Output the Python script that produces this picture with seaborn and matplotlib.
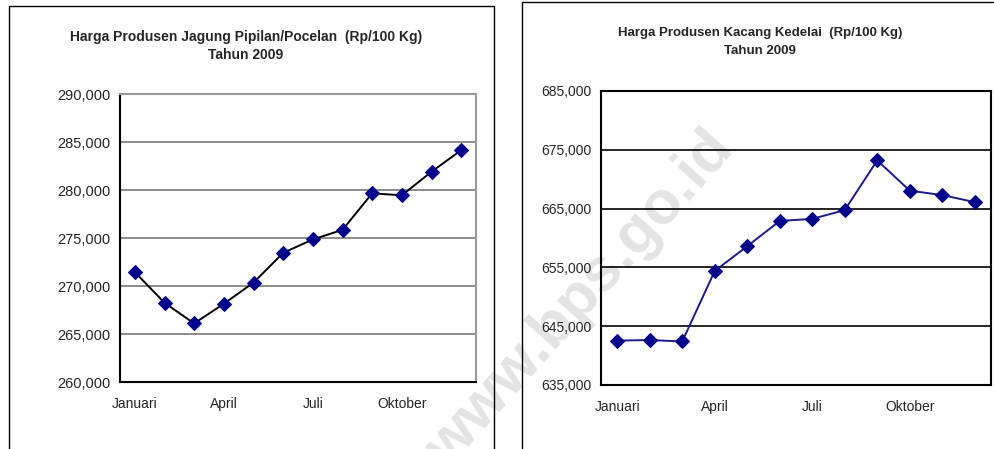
import numpy as np
import pandas as pd
import matplotlib.pyplot as plt
from matplotlib.patches import Rectangle
import seaborn as sns

# Data (Rp/100 Kg), Tahun 2009
bulan = ["Januari", "Februari", "Maret", "April", "Mei", "Juni",
         "Juli", "Agustus", "September", "Oktober", "November", "Desember"]
jagung = [271450, 268250, 266100, 268150, 270350, 273450,
          274850, 275850, 279650, 279450, 281900, 284150]
kedelai = [642550, 642650, 642400, 654400, 658600, 662900,
           663250, 664750, 673200, 668050, 667300, 666100]
label_bulan = ["Januari", "April", "Juli", "Oktober"]

df = pd.DataFrame({"idx": np.arange(len(bulan)), "bulan": bulan,
                   "jagung": jagung, "kedelai": kedelai})

sns.set_style("white")
plt.rcParams["font.family"] = ["Liberation Sans", "DejaVu Sans"]

W, H = 994, 449
fig = plt.figure(figsize=(W / 100, H / 100), dpi=100)


def px_axes(x0, y0, x1, y1):
    # pixel box (top-left origin) -> figure axes
    return fig.add_axes([x0 / W, 1 - y1 / H, (x1 - x0) / W, (y1 - y0) / H])


# panel borders
fig.patches.append(Rectangle((8.5 / W, -0.05), (494 - 8.5) / W, 1.05 - 6.5 / H,
                             transform=fig.transFigure, fill=False,
                             edgecolor="black", lw=1))
fig.patches.append(Rectangle((521.5 / W, -0.05), 0.5, 1.05 - 2.5 / H,
                             transform=fig.transFigure, fill=False,
                             edgecolor="black", lw=1))

# watermark (behind the charts)
fig.text(580 / W, 1 - 300 / H, "www.bps.go.id", rotation=48, fontsize=44,
         fontweight="bold", color="#e4e4e4", ha="center", va="center",
         family=["Liberation Sans", "DejaVu Sans"], zorder=-1)


def style_axes(ax, ymin, ymax, step, grid_color, frame_color):
    ax.set_xlim(-0.5, len(bulan) - 0.5)
    ax.set_ylim(ymin, ymax)
    ax.set_yticks(np.arange(ymin, ymax + 1, step))
    ax.set_yticklabels([f"{v:,.0f}" for v in np.arange(ymin, ymax + 1, step)])
    ax.set_xticks(np.arange(-0.5, len(bulan) + 0.5, 1))
    ax.set_xticklabels([])
    ax.set_xticks([bulan.index(b) for b in label_bulan], minor=True)
    ax.set_xticklabels(label_bulan, minor=True)
    ax.tick_params(axis="x", which="major", direction="out", length=5,
                   width=1, color="black")
    ax.tick_params(axis="x", which="minor", length=0, pad=11, labelsize=10)
    ax.tick_params(axis="y", direction="out", length=5, width=1,
                   color="black", labelsize=10.5, pad=2)
    ax.set_xlabel("")
    ax.set_ylabel("")
    for v in np.arange(ymin + step, ymax, step):
        ax.axhline(v, color=grid_color, lw=1.2, zorder=1)
    for s in ["top", "right"]:
        ax.spines[s].set_color(frame_color)
        ax.spines[s].set_linewidth(1.5)
    for s in ["left", "bottom"]:
        ax.spines[s].set_color("black")
        ax.spines[s].set_linewidth(1.5)
    ax.set_facecolor("none")


# left chart
ax1 = px_axes(120, 94, 476, 382)
sns.lineplot(data=df, x="idx", y="jagung", ax=ax1, color="black", lw=1.4,
             marker="D", markersize=7, markerfacecolor="#00008b",
             markeredgecolor="#00008b", zorder=3)
style_axes(ax1, 260000, 290000, 5000, "#777777", "#999999")
fig.text(246 / W, 1 - 37 / H, "Harga Produsen Jagung Pipilan/Pocelan  (Rp/100 Kg)",
         ha="center", va="center", fontsize=10, fontweight="bold")
fig.text(246 / W, 1 - 55 / H, "Tahun 2009", ha="center", va="center",
         fontsize=10, fontweight="bold")

# right chart
ax2 = px_axes(601, 91, 991, 385)
sns.lineplot(data=df, x="idx", y="kedelai", ax=ax2, color="#1a1a8c", lw=1.4,
             marker="D", markersize=7, markerfacecolor="#00008b",
             markeredgecolor="#00008b", zorder=3)
style_axes(ax2, 635000, 685000, 10000, "black", "black")
ax2.tick_params(axis="y", labelsize=10)
fig.text(760 / W, 1 - 33 / H, "Harga Produsen Kacang Kedelai  (Rp/100 Kg)",
         ha="center", va="center", fontsize=9.5, fontweight="bold")
fig.text(760 / W, 1 - 51 / H, "Tahun 2009", ha="center", va="center",
         fontsize=9.5, fontweight="bold")

fig.savefig("out.png", dpi=100)
